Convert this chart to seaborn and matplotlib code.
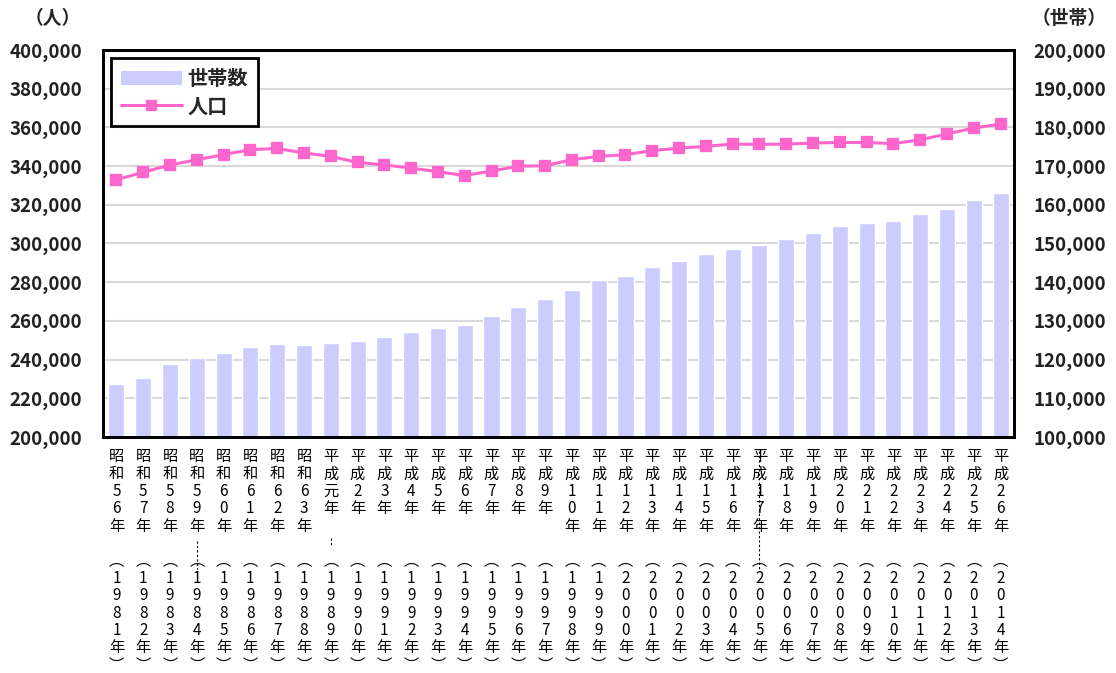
import numpy as np
import matplotlib.pyplot as plt
import seaborn as sns
from matplotlib.patches import Patch
from matplotlib.lines import Line2D

# 和暦ラベル (上段) と西暦 (下段)
era = ["昭和56年", "昭和57年", "昭和58年", "昭和59年", "昭和60年", "昭和61年", "昭和62年", "昭和63年",
       "平成元年", "平成2年", "平成3年", "平成4年", "平成5年", "平成6年", "平成7年", "平成8年",
       "平成9年", "平成10年", "平成11年", "平成12年", "平成13年", "平成14年", "平成15年", "平成16年",
       "平成17年", "平成18年", "平成19年", "平成20年", "平成21年", "平成22年", "平成23年", "平成24年",
       "平成25年", "平成26年"]
years = list(range(1981, 2015))

# 世帯数 (右軸)
households = [113700, 115200, 118800, 120400, 121600, 123200, 124000, 123700, 124200, 124700,
              125850, 127100, 128200, 129000, 131200, 133500, 135600, 138100, 140500, 141500,
              143800, 145600, 147400, 148500, 149700, 151200, 152700, 154400, 155300, 155900,
              157600, 159000, 161300, 163100]

# 人口 (左軸)
population = [333000, 336800, 340600, 343300, 345900, 348500, 349100, 346800, 345000, 341900,
              340600, 339000, 337100, 335100, 337500, 339900, 340200, 343300, 345000, 345900,
              348000, 349300, 350200, 351400, 351200, 351400, 351900, 352200, 352200, 351600,
              353600, 356600, 359700, 361700]

bar_color = "#CCCCFF"
line_color = "#FF66CC"

sns.set_theme(style="white")
plt.rcParams['font.family'] = ['Noto Sans CJK JP', 'DejaVu Sans']


def stack(s, n):
    chars = list(s)
    chars += [""] * (n - len(chars))
    return "\n".join(chars)


labels = [stack(e, 5) + "\n\n" + "\n".join(["︵"] + list(str(y)) + ["年", "︶"])
          for e, y in zip(era, years)]

fig = plt.figure(figsize=(11.16, 6.73), dpi=100)
ax = fig.add_axes([0.0923, 0.3507, 0.8163, 0.5750])
ax2 = ax.twinx()

# 世帯数の棒 (右軸)
sns.barplot(x=labels, y=households, ax=ax2, color=bar_color, saturation=1, width=0.6,
            zorder=2)
# 人口の折れ線 (左軸)
sns.pointplot(x=labels, y=population, ax=ax, color=line_color, marker="s", markersize=7.5,
              linewidth=2.2, zorder=3)

ax.set_zorder(ax2.get_zorder() + 1)
ax.patch.set_visible(False)

ax.set_ylim(200000, 400000)
ax.set_yticks(np.arange(200000, 400001, 20000))
ax2.set_ylim(100000, 200000)
ax2.set_yticks(np.arange(100000, 200001, 10000))
ax.set_xlim(-0.5, len(labels) - 0.5)

for a in (ax, ax2):
    a.set_ylabel("")
    a.set_xlabel("")
    for s in a.spines.values():
        s.set_color("black")
        s.set_linewidth(2)

# グリッド線は棒の後ろ
ax2.yaxis.grid(True, color="#d9d9d9", linewidth=1.5, zorder=0)
ax2.set_axisbelow(True)
ax.grid(False)

fmt = lambda v, p: f"{int(v):,}"
ax.yaxis.set_major_formatter(plt.FuncFormatter(fmt))
ax2.yaxis.set_major_formatter(plt.FuncFormatter(fmt))
ax.tick_params(axis="y", length=0, pad=15, colors="black")
ax2.tick_params(axis="y", length=0, pad=14, colors="black")
for t in ax.get_yticklabels() + ax2.get_yticklabels():
    t.set_fontsize(13.5)
    t.set_fontweight("bold")
    t.set_color("#222222")

ax.tick_params(axis="x", length=0, pad=8, colors="black")
ax.set_xticks(range(len(labels)))
ax.set_xticklabels(labels, fontsize=11, linespacing=1.03, va="top")
ax2.tick_params(axis="x", labelbottom=False, length=0)

# ラベル間の破線
trans = ax.get_xaxis_transform()
for name, y0, y1 in [("昭和59年", -0.27, -0.34), ("平成元年", -0.26, -0.28), ("平成17年", -0.036, -0.34)]:
    i = era.index(name)
    ax.plot([i, i], [y0, y1], transform=trans, color="black", lw=0.8,
            ls=(0, (2, 2)), clip_on=False)

# 軸単位
fig.text(0.047, 0.972, "（人）", fontsize=13.5, fontweight="bold", ha="center", va="center")
fig.text(0.958, 0.972, "（世帯）", fontsize=13.5, fontweight="bold", ha="center", va="center")

# 凡例
handles = [Patch(facecolor=bar_color, edgecolor="none"),
           Line2D([], [], color=line_color, marker="s", markersize=7.5, linewidth=2.2)]
leg = ax.legend(handles, ["世帯数", "人口"], loc="upper left", bbox_to_anchor=(0.0088, 0.979),
                frameon=True, fancybox=False, edgecolor="black", framealpha=1,
                prop={"size": 14.5, "weight": "bold"}, handlelength=3.0, borderpad=0.5,
                labelspacing=0.3, handletextpad=0.3, borderaxespad=0)
leg.get_frame().set_linewidth(2)

fig.savefig("out.png", dpi=100)
